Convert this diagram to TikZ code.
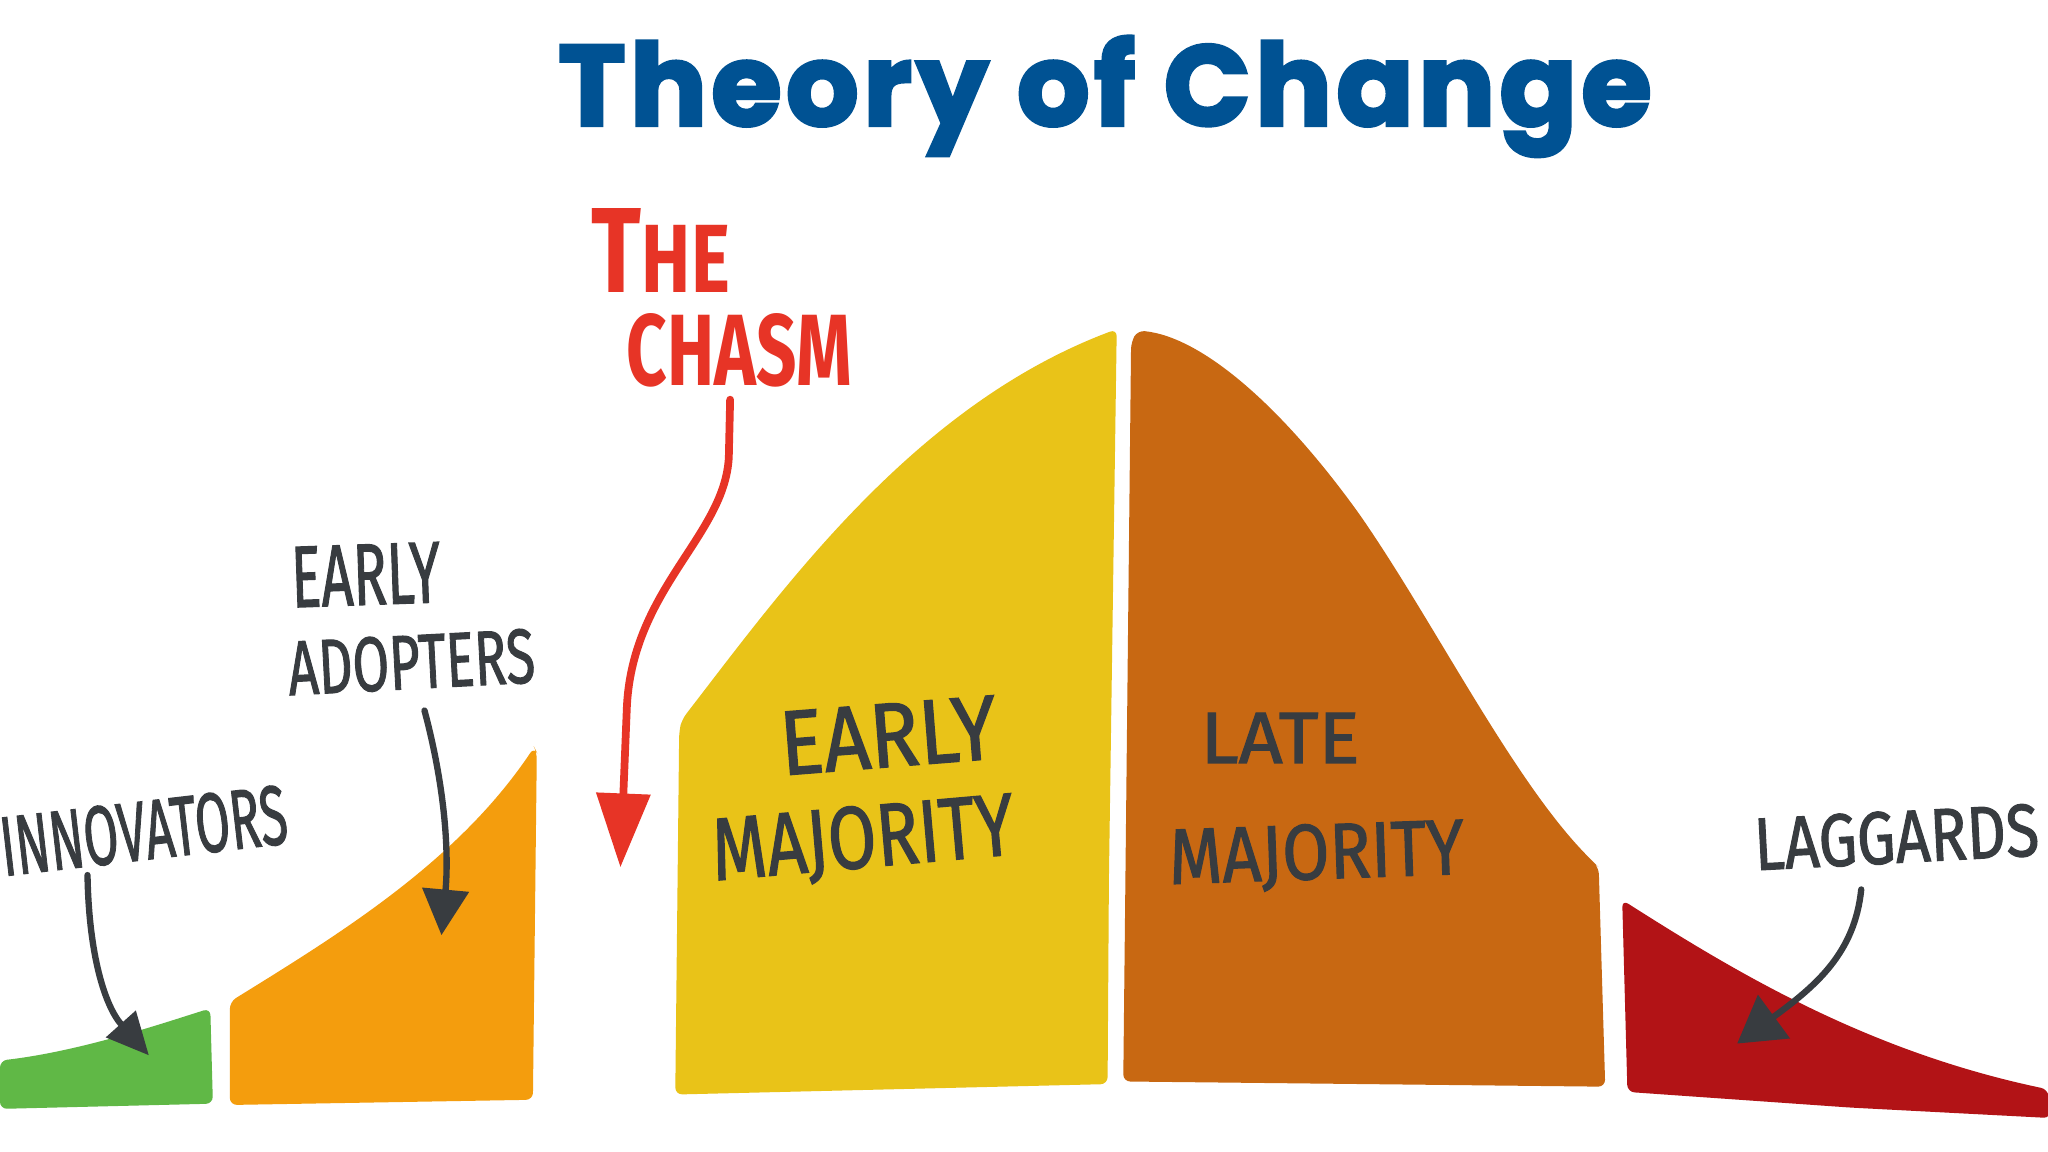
\documentclass[tikz,border=0pt]{standalone}
\usepackage{fontspec}
\usepackage{graphicx}
\usetikzlibrary{arrows.meta}
\newfontfamily\titlefont{Poppins}[BoldFeatures={FakeBold=3}, LetterSpace=4]
\newfontfamily\handfont{Fira Sans}[FakeBold=1.6]
\newfontfamily\redfont{Fira Sans}
\definecolor{titleblue}{RGB}{0,82,147}
\definecolor{cgreen}{RGB}{96,184,70}
\definecolor{corange}{RGB}{244,157,13}
\definecolor{cyellow}{RGB}{233,195,24}
\definecolor{clate}{RGB}{200,104,18}
\definecolor{cred}{RGB}{178,19,22}
\definecolor{redink}{RGB}{231,52,38}
\definecolor{ink}{RGB}{56,60,64}
\begin{document}
\begin{tikzpicture}[x=0.01306cm,y=-0.01306cm,
  lbl/.style={inner sep=0pt, text=ink, font=\handfont},
  redlbl/.style={inner sep=0pt, text=redink, font=\redfont\bfseries},
  ptr/.style={draw=ink, line width=1.8pt, line cap=round},
  redptr/.style={draw=redink, line width=2.2pt, line cap=round}]
\useasboundingbox (0,0) rectangle (1568,882);
\fill[white] (0,0) rectangle (1568,882);

% title
\node[anchor=base, inner sep=0pt, text=titleblue] (title) at (846,96)
  {\resizebox{10.93cm}{!}{\titlefont\bfseries Theory of Change}};

% bell curve segments
\fill[cgreen, rounded corners=2pt] (0,849) -- (0,812)
  .. controls (60,805) and (120,785) .. (161,772)
  -- (163,845) -- cycle;
\fill[corange, rounded corners=2pt] (176,846) -- (176,767)
  .. controls (260,715) and (350,660) .. (409,572)
  -- (411,576) -- (408,842) -- cycle;
\fill[cyellow, rounded corners=2pt] (517,838) -- (520,560) -- (522,551)
  .. controls (600,450) and (700,310) .. (855,252)
  -- (849,674) -- (848,830) -- cycle;
\fill[clate, rounded corners=2pt] (860,828) -- (866,262) -- (871,253)
  .. controls (920,258) and (980,310) .. (1041,394)
  .. controls (1100,480) and (1160,600) .. (1220,660)
  -- (1224,664) -- (1229,832) -- cycle;
\fill[cred, rounded corners=2pt] (1246,836) -- (1242,689)
  .. controls (1330,745) and (1430,805) .. (1568,834)
  -- (1570,856) -- (1417,848) -- cycle;

% labels
\node[redlbl] (the) at (506,192) {\resizebox{1.38cm}{0.84cm}{T\scalebox{0.8}{HE}}};
\node[redlbl] (chasm) at (566,268) {\resizebox{2.25cm}{0.72cm}{CHASM}};
\node[lbl, rotate=6.6] (innov) at (110,636) {\resizebox{2.88cm}{0.59cm}{INNOVATORS}};
\node[lbl, rotate=2] (ea1) at (280,440) {\resizebox{1.49cm}{0.60cm}{EARLY}};
\node[lbl, rotate=3] (ea2) at (315,507) {\resizebox{2.47cm}{0.54cm}{ADOPTERS}};
\node[lbl, rotate=4.5] (em1) at (680,563) {\resizebox{2.17cm}{0.63cm}{EARLY}};
\node[lbl, rotate=5] (em2) at (661,645) {\resizebox{3.03cm}{0.62cm}{MAJORITY}};
\node[lbl] (lm1) at (980,565) {\resizebox{1.59cm}{0.50cm}{LATE}};
\node[lbl, rotate=2] (lm2) at (1008,656) {\resizebox{2.95cm}{0.55cm}{MAJORITY}};
\node[lbl, rotate=3] (lag) at (1452,641) {\resizebox{2.85cm}{0.52cm}{LAGGARDS}};

% arrow ends
\coordinate (innoS) at (67,670);
\coordinate (innoT) at (114,808);
\coordinate (eaS) at (325,544);
\coordinate (eaT) at (338,716);
\coordinate (chS) at (559,306);
\coordinate (chT) at (475,664);
\coordinate (lagS) at (1425,681);
\coordinate (lagT) at (1330,799);

\draw[ptr, -{Triangle[width=11pt,length=12pt]}] (innoS) .. controls (68,730) and (80,770) .. (innoT);
\draw[ptr, -{Triangle[width=13pt,length=13pt]}] (eaS) .. controls (340,600) and (344,650) .. (eaT);
\draw[redptr, -{Triangle[width=15pt,length=21pt]}] (chS) -- (558,350) .. controls (555,410) and (485,450) .. (480,540) -- (chT);
\draw[ptr, -{Triangle[width=15pt,length=13pt]}] (lagS) .. controls (1420,730) and (1390,755) .. (lagT);
\end{tikzpicture}
\end{document}
